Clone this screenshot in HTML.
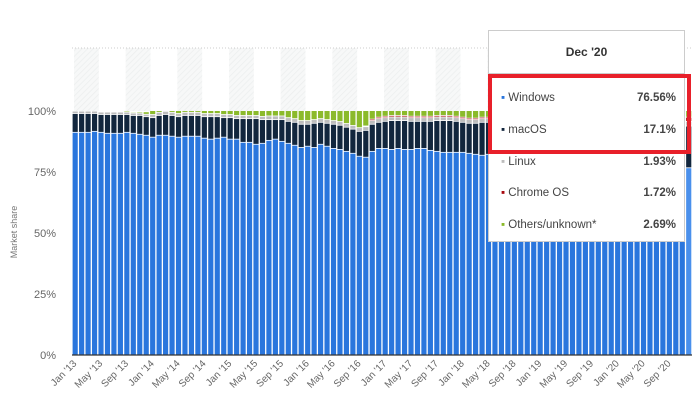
<!DOCTYPE html>
<html><head><meta charset="utf-8"><style>
body{margin:0;background:#fff;width:700px;height:410px;overflow:hidden;font-family:"Liberation Sans",sans-serif}
svg text{font-family:"Liberation Sans",sans-serif}
</style></head><body>
<svg id="c" width="700" height="410">
<defs><pattern id="hatch" width="4" height="4" patternUnits="userSpaceOnUse" patternTransform="rotate(45)"><rect width="4" height="4" fill="#f7f8f8"/><line x1="0" y1="0" x2="0" y2="4" stroke="#eceeee" stroke-width="1.5"/></pattern></defs>
<g id="bands"></g><g id="bars"></g><g id="axes"></g>
</svg>
<script>
const categories=[];
const monthNames=["Jan","Feb","Mar","Apr","May","Jun","Jul","Aug","Sep","Oct","Nov","Dec"];
for(let y=13;y<=20;y++)for(let m=0;m<12;m++)categories.push(monthNames[m]+" '"+y);
const windows=[91.1,91.1,91.1,91.5,91.1,90.7,90.7,90.7,91.1,90.7,90.3,89.9,89.1,89.9,89.9,89.5,89.1,89.5,89.5,89.5,88.7,88.3,88.7,89.1,88.3,88.3,87.0,87.0,86.2,86.6,87.8,88.3,87.4,86.6,85.8,84.9,85.4,84.9,86.2,85.4,84.5,84.1,83.3,82.5,81.3,80.9,83.3,84.5,84.5,84.1,84.5,84.1,84.1,84.5,84.5,83.7,83.3,82.9,82.9,82.9,82.9,82.5,82.1,81.7,82.1,81.7,81.5,81.3,81.0,80.8,80.6,80.4,80.2,80.0,79.8,79.6,79.4,79.2,79.0,78.8,78.6,78.4,78.3,78.2,78.0,77.9,77.8,77.7,77.6,77.4,77.3,77.2,77.0,76.9,76.8,76.56];
const macos=[7.7,7.7,7.7,7.3,7.3,7.7,7.7,7.7,7.3,7.3,7.7,7.6,8.0,8.1,8.5,8.5,8.4,8.5,8.5,8.5,8.8,9.2,8.8,8.0,8.8,8.4,9.7,9.7,10.5,9.7,8.5,8.0,8.9,9.0,9.4,9.5,9.0,9.9,9.0,9.4,9.9,9.9,9.9,9.9,10.2,11.0,11.1,10.7,11.1,11.8,11.4,11.8,11.5,11.1,11.1,11.9,12.6,13.0,13.0,12.7,12.3,12.3,12.7,13.5,13.1,13.3,13.5,13.6,13.8,14.0,14.2,14.3,14.5,14.7,14.8,15.0,15.1,15.3,15.4,15.6,15.7,15.8,16.0,16.1,16.2,16.3,16.4,16.5,16.6,16.7,16.8,16.8,16.9,17.0,17.0,17.1];
const linux=[1.0,1.0,1.0,1.0,1.0,1.0,1.0,1.0,1.0,1.0,1.0,1.0,1.3,1.3,1.3,1.3,1.3,1.3,1.3,1.3,1.3,1.3,1.3,1.3,1.3,1.3,1.3,1.3,1.3,1.3,1.5,1.5,1.5,1.5,1.5,1.5,1.5,1.5,1.5,1.5,1.5,1.5,1.5,1.5,1.5,1.5,1.5,1.5,1.5,1.5,1.5,1.5,1.5,1.5,1.5,1.5,1.5,1.5,1.5,1.5,1.5,1.5,1.5,1.5,1.5,1.7,1.7,1.7,1.7,1.7,1.7,1.7,1.7,1.7,1.7,1.7,1.7,1.7,1.7,1.7,1.7,1.7,1.7,1.7,1.7,1.7,1.7,1.7,1.7,1.7,1.7,1.7,1.7,1.7,1.7,1.93];
const chromeos=[0,0,0,0,0,0,0,0,0,0,0,0,0,0,0,0,0,0,0,0,0,0,0,0,0,0,0,0,0,0,0,0,0,0,0,0,0,0,0,0,0,0,0,0,0,0.3,0.6,0.6,0.6,0.6,0.6,0.6,0.6,0.6,0.6,0.6,0.6,0.6,0.6,0.6,0.6,0.6,0.6,0.6,0.6,1.0,1.0,1.0,1.0,1.0,1.0,1.0,1.0,1.0,1.0,1.0,1.0,1.0,1.0,1.0,1.0,1.0,1.0,1.0,1.0,1.0,1.0,1.0,1.0,1.0,1.0,1.0,1.0,1.0,1.0,1.72];
const others=[0.1,0.1,0.1,0.1,0.1,0.1,0.1,0.1,0.5,0.4,0.5,1.0,1.6,0.7,0.3,0.7,1.2,0.7,0.7,0.7,1.2,1.2,1.2,1.6,1.6,2.0,2.0,2.0,2.0,2.4,2.2,2.2,2.2,2.9,3.3,4.1,4.1,3.7,3.3,3.7,4.1,4.5,5.3,6.1,7.0,6.3,3.5,2.7,2.3,2.0,2.0,2.0,2.3,2.3,2.3,2.3,2.0,2.0,2.0,2.3,2.7,3.1,3.1,2.7,2.7,2.3,2.3,2.4,2.5,2.5,2.5,2.6,2.6,2.6,2.7,2.7,2.8,2.8,2.9,2.9,3.0,3.1,3.0,3.0,3.1,3.1,3.1,3.1,3.1,3.2,3.2,3.3,3.4,3.4,3.5,2.69];
const yTicks=[0,25,50,75,100];
const NS="http://www.w3.org/2000/svg";
const X0=72,X1=692,Y0=355,Y100=111;
const pitch=(X1-X0)/categories.length;
const xs=i=>X0+i*pitch;
const ys=v=>Y0-(Y0-Y100)*v/100;
function mk(tag,attrs,parent){const e=document.createElementNS(NS,tag);for(const k in attrs)e.setAttribute(k,attrs[k]);parent.appendChild(e);return e;}
const bands=document.getElementById('bands');
for(let i=0;i<categories.length;i+=8){
  const r=mk('rect',{x:xs(i)+2,y:48,width:pitch*4-1,height:Y100-48,fill:'url(#hatch)'},bands);
  
  
}
const grid=mk('line',{x1:X0,x2:X1,y1:48,y2:48,stroke:'#ccc','stroke-dasharray':'1,2'},bands);


const barsG=document.getElementById('bars');
const series=[[windows,'#2a76dd','windows'],[macos,'#12263d','macos'],[linux,'#bdbdbd','linux'],[chromeos,'#a7080f','chrome-os'],[others,'#8bba2a','others']];
categories.forEach((c,i)=>{
  let acc=0;
  series.forEach(([arr,col,nm],k)=>{
    const v=arr[i];if(v<=0){return;}
    let fill=col;
    if(i===categories.length-1&&k===0)fill='#4a90ec';
    const y1=ys(acc+v),y2=ys(acc);
    const gap=k===0?0:0.8;
    const r=mk('rect',{x:xs(i)+0.6,y:y1,width:pitch-1.3,height:Math.max(0,y2-y1-gap),fill:fill},barsG);
    
    
    acc+=v;
  });
});
const ax=document.getElementById('axes');
const xl=mk('line',{x1:X0,x2:X1,y1:Y0,y2:Y0,stroke:'#333','stroke-width':1.2},ax);


yTicks.forEach(t=>{
  const tx=mk('text',{x:56,y:ys(t)+4,'text-anchor':'end','font-size':11,fill:'#666'},ax);
  tx.textContent=t+'%';
  
  
});
const yt=mk('text',{x:0,y:0,'text-anchor':'middle','font-size':9,fill:'#777',transform:'translate(17,232) rotate(-90)'},ax);
yt.textContent='Market share';


categories.forEach((c,i)=>{
  if(i%4!==0)return;
  const cx=xs(i)+pitch/2+2,cy=364;
  const t=mk('text',{x:cx,y:cy,'text-anchor':'end','font-size':10,fill:'#666',transform:`rotate(-45 ${cx} ${cy})`},ax);
  t.textContent=c;
  
  
});
</script>
<div style="position:absolute;left:488px;top:30px;width:197px;height:212px;background:#fff;border:1px solid #ccc;box-sizing:border-box;font-size:11.5px;color:#444">
  <div style="height:42px;line-height:42px;text-align:center;font-weight:bold;color:#333;border-bottom:1px solid #ccc;font-size:12px">Dec '20</div>
  <div style="position:relative">
  <div style="position:absolute;top:18px;left:12px;right:8px"><span style="color:#2a76dd">&#9642;</span> Windows<b style="float:right">76.56%</b></div>
  <div style="position:absolute;top:50px;left:12px;right:8px"><span style="color:#12263d">&#9642;</span> macOS<b style="float:right">17.1%</b></div>
  <div style="position:absolute;top:82px;left:12px;right:8px"><span style="color:#bdbdbd">&#9642;</span> Linux<b style="float:right">1.93%</b></div>
  <div style="position:absolute;top:113px;left:12px;right:8px"><span style="color:#a7080f">&#9642;</span> Chrome OS<b style="float:right">1.72%</b></div>
  <div style="position:absolute;top:145px;left:12px;right:8px"><span style="color:#8bba2a">&#9642;</span> Others/unknown*<b style="float:right">2.69%</b></div>
  </div>
</div>
<div style="position:absolute;left:488px;top:74px;width:203px;height:80px;border:4px solid #e8202a;box-sizing:border-box"></div>
</body></html>
